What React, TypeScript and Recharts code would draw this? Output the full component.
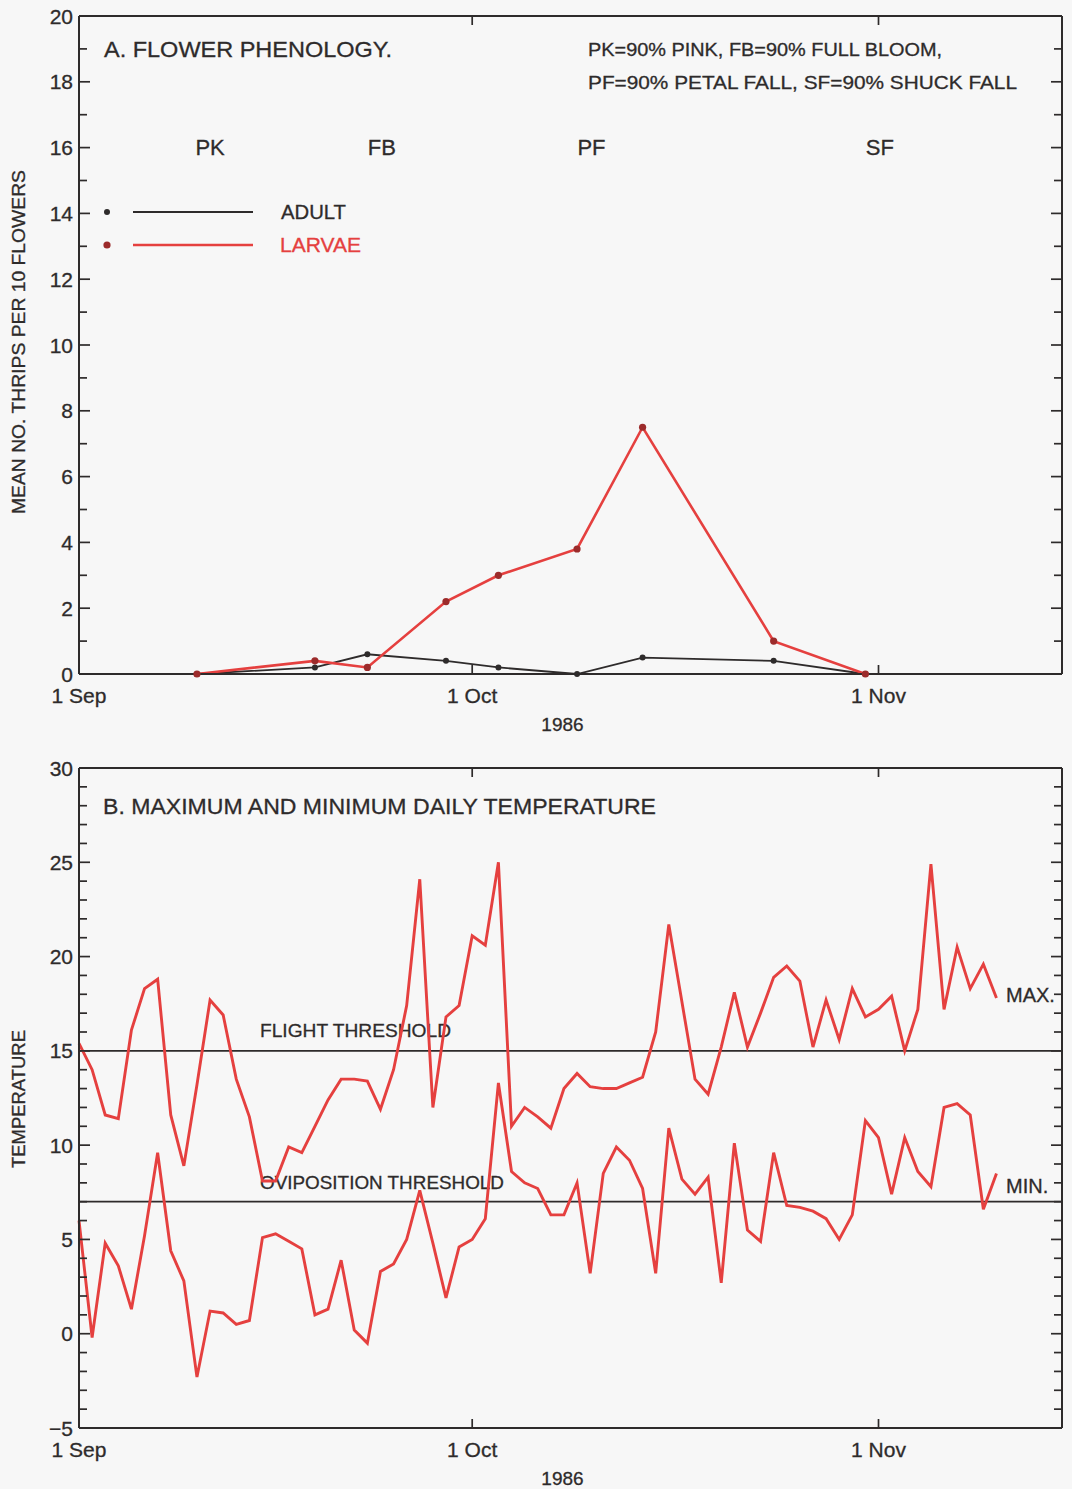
import React from 'react';
import { LineChart, Line, XAxis, YAxis, ReferenceLine, ReferenceDot, Label } from 'recharts';

// ---- Panel A data (days after 1 Sep 1986) ----
const sampleDays = [9, 18, 22, 28, 32, 38, 43, 53, 60];
const adultCounts = [0, 0.2, 0.6, 0.4, 0.2, 0, 0.5, 0.4, 0];
const larvaeCounts = [0, 0.4, 0.2, 2.2, 3.0, 3.8, 7.5, 1.0, 0];

const phenologyLabels = ['PK', 'FB', 'PF', 'SF'];
const phenologyDays = [10, 23.1, 39.1, 61.1];

// ---- Panel B data: daily temperatures from 1 Sep (day 0) ----
const maxTemp = [
  15.4, 14.0, 11.6, 11.4, 16.1, 18.3, 18.8, 11.6, 8.9, 13.2,
  17.7, 16.9, 13.5, 11.5, 8.1, 8.1, 9.9, 9.6, 11.0, 12.4,
  13.5, 13.5, 13.4, 11.9, 14.0, 17.4, 24.1, 12.0, 16.8, 17.4,
  21.1, 20.6, 25.0, 11.0, 12.0, 11.5, 10.9, 13.0, 13.8, 13.1,
  13.0, 13.0, 13.3, 13.6, 16.0, 21.7, 17.6, 13.5, 12.7, 15.2,
  18.1, 15.2, 17.0, 18.9, 19.5, 18.7, 15.2, 17.7, 15.6, 18.3,
  16.8, 17.2, 17.9, 15.0, 17.2, 24.9, 17.2, 20.5, 18.3, 19.6,
  17.8,
];
const minTemp = [
  6.0, -0.2, 4.8, 3.6, 1.3, 5.2, 9.6, 4.4, 2.8, -2.3,
  1.2, 1.1, 0.5, 0.7, 5.1, 5.3, 4.9, 4.5, 1.0, 1.3,
  3.9, 0.2, -0.5, 3.3, 3.7, 5.0, 7.6, 4.8, 1.9, 4.6,
  5.0, 6.1, 13.3, 8.6, 8.0, 7.7, 6.3, 6.3, 8.0, 3.2,
  8.5, 9.9, 9.2, 7.7, 3.2, 10.9, 8.2, 7.4, 8.3, 2.7,
  10.1, 5.5, 4.9, 9.6, 6.8, 6.7, 6.5, 6.1, 5.0, 6.3,
  11.3, 10.4, 7.4, 10.4, 8.6, 7.8, 12.0, 12.2, 11.6, 6.6,
  8.5,
];
const flightThreshold = 15;
const ovipositionThreshold = 7;

// ---- Axes ----
const xTickDays = [0, 30, 61];
const xTickLabels = ['1 Sep', '1 Oct', '1 Nov'];
const xInnerTickDays = [30, 61];
const topYTicks = [0, 1, 2, 3, 4, 5, 6, 7, 8, 9, 10, 11, 12, 13, 14, 15, 16, 17, 18, 19, 20];
const tempYTicks = [-5, -4, -3, -2, -1, 0, 1, 2, 3, 4, 5, 6, 7, 8, 9, 10, 11, 12, 13, 14, 15, 16, 17, 18, 19, 20, 21, 22, 23, 24, 25, 26, 27, 28, 29, 30];

const topData = sampleDays.map((d, i) => ({ day: d, adult: adultCounts[i], larvae: larvaeCounts[i] }));
const tempData = maxTemp.map((v, i) => ({ day: i, max: v, min: minTemp[i] }));

const INK = '#2e2b2b';
const RED = '#e5403f';
const DOT_RED = '#9c2b2b';
const BG = '#f7f7f7';
const FONT = '"Liberation Sans", Arial, sans-serif';

const fmt = (v: number) => (v < 0 ? '\u2212' + Math.abs(v) : String(v));

const makeLeftTick = (step: number) => (props: any) => {
  const { x, y, payload } = props;
  const v = payload.value;
  const major = Math.abs(v % step) < 1e-6;
  return (
    <g>
      <line x1={x} x2={x + (major ? 11 : 8)} y1={y} y2={y} stroke={INK} strokeWidth={1.7} />
      {major && (
        <text x={x - 6} y={y} textAnchor="end" dominantBaseline="central" fontSize={21} fill={INK} stroke={INK} strokeWidth={0.3} fontFamily={FONT}>
          {fmt(v)}
        </text>
      )}
    </g>
  );
};

const makeRightTick = (step: number) => (props: any) => {
  const { x, y, payload } = props;
  const major = Math.abs(payload.value % step) < 1e-6;
  return <line x1={x} x2={x - (major ? 11 : 8)} y1={y} y2={y} stroke={INK} strokeWidth={1.7} />;
};

const BottomTick = (props: any) => {
  const { x, y, payload } = props;
  const idx = xTickDays.indexOf(payload.value);
  return (
    <g>
      {payload.value > 0 && <line x1={x} x2={x} y1={y} y2={y - 9} stroke={INK} strokeWidth={1.7} />}
      <text x={x} y={y + 29} textAnchor="middle" fontSize={21} fill={INK} stroke={INK} strokeWidth={0.3} fontFamily={FONT}>
        {xTickLabels[idx]}
      </text>
    </g>
  );
};

const TopTick = (props: any) => {
  const { x, y } = props;
  return <line x1={x} x2={x} y1={y} y2={y + 9} stroke={INK} strokeWidth={1.7} />;
};

const axisLine = { stroke: INK, strokeWidth: 2 };

const yearLabel = (
  <Label value="1986" position="insideBottom" offset={0} fontSize={19} fill={INK} stroke={INK} strokeWidth={0.3} fontFamily={FONT} dx={-8} />
);

function frameAxes(domain: [number, number], yTicks: number[], step: number) {
  return [
    <XAxis
      key="xb"
      dataKey="day"
      type="number"
      domain={[0, 75]}
      ticks={xTickDays}
      interval={0}
      tick={BottomTick}
      tickLine={false}
      tickSize={0}
      tickMargin={0}
      axisLine={axisLine}
      height={57}
      label={yearLabel}
    />,
    <XAxis
      key="xt"
      xAxisId="top"
      orientation="top"
      dataKey="day"
      type="number"
      domain={[0, 75]}
      ticks={xInnerTickDays}
      interval={0}
      tick={TopTick}
      tickLine={false}
      tickSize={0}
      tickMargin={0}
      axisLine={axisLine}
      height={1}
    />,
    <YAxis
      key="yl"
      type="number"
      domain={domain}
      ticks={yTicks}
      interval={0}
      tick={makeLeftTick(step)}
      tickLine={false}
      tickSize={0}
      tickMargin={0}
      axisLine={axisLine}
      width={60}
    />,
    <YAxis
      key="yr"
      yAxisId="r"
      orientation="right"
      type="number"
      domain={domain}
      ticks={yTicks}
      interval={0}
      tick={makeRightTick(step)}
      tickLine={false}
      tickSize={0}
      tickMargin={0}
      axisLine={axisLine}
      width={1}
    />,
  ];
}

const txt = { fill: INK, stroke: INK, strokeWidth: 0.3 };

export default function App() {
  return (
    <div style={{ position: 'absolute', left: 0, top: 0, width: 1072, height: 1489, background: BG, overflow: 'hidden' }}>
      <div style={{ position: 'absolute', left: 0, top: 0 }}>
        <LineChart width={1072} height={752} data={topData} margin={{ top: 15, right: 9, left: 19, bottom: 21 }}>
          {frameAxes([0, 20], topYTicks, 2)}
          {phenologyLabels.map((lab, i) => (
            <ReferenceDot
              key={lab}
              x={phenologyDays[i]}
              y={16}
              r={0}
              fill="none"
              stroke="none"
              label={<Label value={lab} position="center" fontSize={22} fill={INK} stroke={INK} strokeWidth={0.3} fontFamily={FONT} />}
            />
          ))}
          <Line
            xAxisId="top"
            yAxisId="r"
            dataKey="adult"
            stroke="none"
            dot={false}
            activeDot={false}
            legendType="none"
            isAnimationActive={false}
          />
          <Line
            dataKey="adult"
            stroke={INK}
            strokeWidth={1.8}
            dot={{ r: 3, fill: INK, stroke: 'none' }}
            isAnimationActive={false}
          />
          <Line
            dataKey="larvae"
            stroke={RED}
            strokeWidth={2.6}
            dot={{ r: 3.6, fill: DOT_RED, stroke: 'none' }}
            isAnimationActive={false}
          />
        </LineChart>
      </div>

      <div style={{ position: 'absolute', left: 0, top: 752 }}>
        <LineChart width={1072} height={737} data={tempData} margin={{ top: 15, right: 9, left: 19, bottom: 4 }}>
          {frameAxes([-5, 30], tempYTicks, 5)}
          <ReferenceLine
            y={flightThreshold}
            stroke={INK}
            strokeWidth={1.8}
            label={(p: any) => (
              <text x={p.viewBox.x + 181} y={p.viewBox.y - 20} dominantBaseline="central" fontSize={19} {...txt} fontFamily={FONT} textLength={191} lengthAdjust="spacingAndGlyphs">
                FLIGHT THRESHOLD
              </text>
            )}
          />
          <ReferenceLine
            y={ovipositionThreshold}
            stroke={INK}
            strokeWidth={1.8}
            label={(p: any) => (
              <text x={p.viewBox.x + 181} y={p.viewBox.y - 19} dominantBaseline="central" fontSize={19} {...txt} fontFamily={FONT} textLength={244} lengthAdjust="spacingAndGlyphs">
                OVIPOSITION THRESHOLD
              </text>
            )}
          />
          <Line
            xAxisId="top"
            yAxisId="r"
            dataKey="max"
            stroke="none"
            dot={false}
            activeDot={false}
            legendType="none"
            isAnimationActive={false}
          />
          <Line dataKey="max" stroke={RED} strokeWidth={2.9} dot={false} isAnimationActive={false} />
          <Line dataKey="min" stroke={RED} strokeWidth={2.9} dot={false} isAnimationActive={false} />
        </LineChart>
      </div>

      <svg width={1072} height={1489} style={{ position: 'absolute', left: 0, top: 0, pointerEvents: 'none' }}>
        <g fontFamily={FONT} {...txt}>
          <text x={19} y={342} transform="rotate(-90 19 342)" textAnchor="middle" dominantBaseline="central" fontSize={18} textLength={344} lengthAdjust="spacingAndGlyphs">
            MEAN NO. THRIPS PER 10 FLOWERS
          </text>
          <text x={19} y={1099} transform="rotate(-90 19 1099)" textAnchor="middle" dominantBaseline="central" fontSize={18} textLength={138} lengthAdjust="spacingAndGlyphs">
            TEMPERATURE
          </text>
          <text x={104} y={49} dominantBaseline="central" fontSize={22} textLength={288} lengthAdjust="spacingAndGlyphs">
            A. FLOWER PHENOLOGY.
          </text>
          <text x={588} y={49} dominantBaseline="central" fontSize={19} textLength={354} lengthAdjust="spacingAndGlyphs">
            PK=90% PINK, FB=90% FULL BLOOM,
          </text>
          <text x={588} y={82} dominantBaseline="central" fontSize={19} textLength={429} lengthAdjust="spacingAndGlyphs">
            PF=90% PETAL FALL, SF=90% SHUCK FALL
          </text>
          <circle cx={107} cy={212} r={3} fill={INK} stroke="none" />
          <line x1={133} x2={253} y1={212} y2={212} stroke={INK} strokeWidth={1.8} />
          <text x={281} y={212} dominantBaseline="central" fontSize={20} textLength={65} lengthAdjust="spacingAndGlyphs">
            ADULT
          </text>
          <circle cx={107} cy={245} r={3.6} fill={DOT_RED} stroke="none" />
          <line x1={133} x2={253} y1={245} y2={245} stroke={RED} strokeWidth={2.6} />
          <text x={280} y={245} dominantBaseline="central" fontSize={20} fill={RED} stroke={RED} textLength={81} lengthAdjust="spacingAndGlyphs">
            LARVAE
          </text>
          <text x={103} y={806} dominantBaseline="central" fontSize={22} textLength={553} lengthAdjust="spacingAndGlyphs">
            B. MAXIMUM AND MINIMUM DAILY TEMPERATURE
          </text>
          <text x={1006} y={995} dominantBaseline="central" fontSize={20}>
            MAX.
          </text>
          <text x={1006} y={1186} dominantBaseline="central" fontSize={20}>
            MIN.
          </text>
        </g>
      </svg>
    </div>
  );
}
